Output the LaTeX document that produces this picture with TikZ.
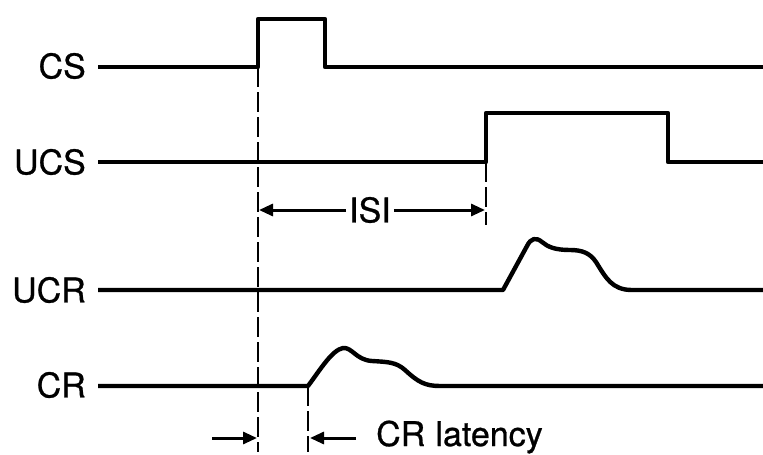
\documentclass[tikz,border=0pt]{standalone}
\usepackage{fontspec}
\setmainfont{TeX Gyre Heros}
\newfontfamily\lblfont[FakeBold=0.8]{TeX Gyre Heros}
\usetikzlibrary{arrows.meta}
\begin{document}
\begin{tikzpicture}[x=1pt,y=-1pt,
  sig/.style={line width=4.4pt, line join=round},
  guide/.style={line width=2.2pt, dash pattern=on 20pt off 5pt},
  dim/.style={line width=3pt, -{Triangle[length=14pt,width=12pt]}},
  lbl/.style={font=\lblfont\fontsize{34}{34}\selectfont, inner sep=0pt}]
\useasboundingbox (0,0) rectangle (763,455);
% labels
\node[lbl, anchor=east] (cs)  at (86,66)  {CS};
\node[lbl, anchor=east] (ucs) at (86,162) {UCS};
\node[lbl, anchor=east] (ucr) at (86,290) {UCR};
\node[lbl, anchor=east] (cr)  at (86,385) {CR};
\node[lbl] (isi) at (370,210) {ISI};
\node[lbl, anchor=base west] (lat) at (376,446) {CR\hspace{0.3em}latency};
% key coordinates
\coordinate (csOn) at (258,67);
\coordinate (ucsOn) at (486,162);
\coordinate (crOn) at (308,386);
\coordinate (g1) at (258,452);
\coordinate (g2) at (486,225);
\coordinate (g3) at (308,452);
% signals
\draw[sig] (98,67) -- (csOn) -- (258,19) -- (325,19) -- (325,67) -- (763,67);
\draw[sig] (98,162) -- (ucsOn) -- (486,113) -- (668,113) -- (668,162) -- (763,162);
\draw[sig] (98,290) -- (503,290) -- (527,246)
  .. controls (531,238) and (536,237) .. (542,242)
  .. controls (548,247) and (555,250) .. (570,250)
  .. controls (582,250) and (590,253) .. (596,262)
  .. controls (606,278) and (612,290) .. (632,290) -- (763,290);
\draw[sig] (98,386) -- (crOn)
  .. controls (320,370) and (332,350) .. (343,348)
  .. controls (352,347) and (356,360) .. (372,361)
  .. controls (388,362) and (396,362) .. (405,370)
  .. controls (418,382) and (425,386) .. (440,386) -- (763,386);
% guides
\draw[guide] (csOn) -- (g1);
\draw[guide] (ucsOn) -- (g2);
\draw[guide] (crOn) -- (g3);
% ISI arrows
\coordinate (isiL) at (259,210);
\coordinate (isiR) at (485,210);
\draw[dim] ([xshift=-3pt]isi.west) -- (isiL);
\draw[dim] ([xshift=3pt]isi.east) -- (isiR);
% latency arrows
\coordinate (lt1) at (212,438);
\coordinate (lt2) at (257,438);
\coordinate (lt3) at (356,438);
\coordinate (lt4) at (310,438);
\draw[dim] (lt1) -- (lt2);
\draw[dim] (lt3) -- (lt4);
\end{tikzpicture}
\end{document}
